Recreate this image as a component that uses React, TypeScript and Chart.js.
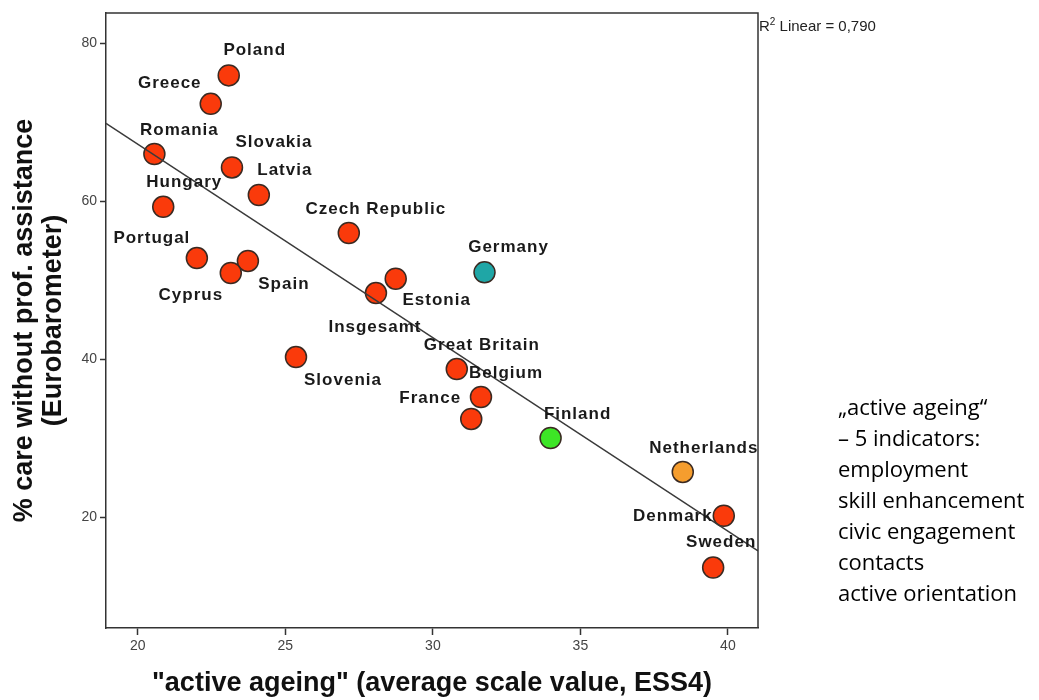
import React, { useEffect, useRef } from 'react';
import { Chart, registerables } from 'chart.js';

Chart.register(...registerables);

// ---------- data ----------
const countries = [
  'Poland', 'Greece', 'Romania', 'Slovakia', 'Latvia', 'Hungary', 'Czech Republic',
  'Portugal', 'Spain', 'Cyprus', 'Germany', 'Estonia', 'Insgesamt', 'Slovenia',
  'Great Britain', 'Belgium', 'France', 'Finland', 'Netherlands', 'Denmark', 'Sweden',
];
const activeAgeing = [
  23.08, 22.47, 20.56, 23.19, 24.1, 20.86, 27.15,
  22.0, 23.73, 23.15, 31.75, 28.74, 28.07, 25.36,
  30.81, 31.63, 31.3, 33.99, 38.47, 39.86, 39.5,
];
const careWithoutAssistance = [
  75.9, 72.3, 65.95, 64.25, 60.76, 59.27, 55.95,
  52.78, 52.41, 50.89, 50.97, 50.17, 48.35, 40.25,
  38.73, 35.19, 32.41, 30.0, 25.7, 20.16, 13.6,
];
const xTicks = [20, 25, 30, 35, 40];
const yTicks = [20, 40, 60, 80];
const fitLineX = [18.92, 41.02];
const fitLineY = [69.84, 15.7];
const rSquared = '0,790';
const xTitle = '"active ageing" (average scale value, ESS4)';
const yTitleLines = ['% care without prof. assistance', '(Eurobarometer)'];
const noteLines = [
  '\u201Eactive ageing\u201C',
  '\u2013 5 indicators:',
  'employment',
  'skill enhancement',
  'civic engagement',
  'contacts',
  'active orientation',
];

// ---------- styles / layout ----------
const defaultColor = '#fa3a0b';
const specialColors: Record<string, string> = {
  Germany: '#1fa6a6',
  Finland: '#3de526',
  Netherlands: '#f59d2e',
};
// label centre offsets (px) relative to each point
const labelOffsets: [number, number][] = [
  [26, -25], [-41, -21], [25, -24], [42, -25], [26, -25], [21, -24], [27, -24],
  [-45, -20], [36, 23], [-40, 22], [24, -25], [41, 22], [-1, 34], [47, 23],
  [25, -24], [25, -24], [-41, -21], [27, -24], [21, -24], [-51, 1], [8, -25],
];

const decorPlugin = {
  id: 'decor',
  afterDraw(chart: any) {
    const { ctx, chartArea } = chart;
    const { left, right, top, bottom } = chartArea;
    ctx.save();
    // box
    ctx.strokeStyle = '#333';
    ctx.lineWidth = 1.5;
    ctx.beginPath();
    ctx.moveTo(left, top);
    ctx.lineTo(right, top);
    ctx.lineTo(right, bottom);
    ctx.stroke();

    // point labels
    const meta = chart.getDatasetMeta(1);
    ctx.font = 'bold 17px "Liberation Sans", Arial, sans-serif';
    try { (ctx as any).letterSpacing = '1px'; } catch (e) {}
    ctx.fillStyle = '#1a1a1a';
    ctx.textAlign = 'center';
    ctx.textBaseline = 'middle';
    meta.data.forEach((el: any, i: number) => {
      const [dx, dy] = labelOffsets[i];
      ctx.fillText(countries[i], el.x + dx, el.y + dy);
    });
    try { (ctx as any).letterSpacing = '0px'; } catch (e) {}

    // axis titles
    ctx.fillStyle = '#111';
    ctx.font = 'bold 27px "Liberation Sans", Arial, sans-serif';
    ctx.textAlign = 'center';
    ctx.textBaseline = 'middle';
    ctx.fillText(xTitle, (left + right) / 2, 684);
    const cy = (top + bottom) / 2;
    const xs = [25, 54];
    yTitleLines.forEach((line, i) => {
      ctx.save();
      ctx.translate(xs[i], cy);
      ctx.rotate(-Math.PI / 2);
      ctx.fillText(line, 0, 0);
      ctx.restore();
    });

    // R² text
    ctx.fillStyle = '#222';
    ctx.textAlign = 'left';
    ctx.textBaseline = 'alphabetic';
    ctx.font = '15px "Liberation Sans", Arial, sans-serif';
    let x = right + 1;
    ctx.fillText('R', x, 31);
    x += ctx.measureText('R').width;
    ctx.font = '10px "Liberation Sans", Arial, sans-serif';
    ctx.fillText('2', x, 25);
    x += ctx.measureText('2').width;
    ctx.font = '15px "Liberation Sans", Arial, sans-serif';
    ctx.fillText(' Linear = ' + rSquared, x, 31);

    // note
    ctx.fillStyle = '#000';
    ctx.font = '22px "Open Sans", "Noto Sans", sans-serif';
    noteLines.forEach((line, i) => {
      ctx.fillText(line, 838, 415 + i * 31);
    });
    ctx.restore();
  },
};

export default function App() {
  const ref = useRef<HTMLCanvasElement | null>(null);
  useEffect(() => {
    if (!ref.current) return;
    const pointData = activeAgeing.map((v, i) => ({ x: v, y: careWithoutAssistance[i] }));
    const fitData = fitLineX.map((v, i) => ({ x: v, y: fitLineY[i] }));
    const chart = new Chart(ref.current, {
      type: 'scatter',
      data: {
        datasets: [
          {
            type: 'line',
            label: 'fit',
            data: fitData,
            borderColor: '#3a3a3a',
            borderWidth: 1.5,
            pointRadius: 0,
            fill: false,
            order: 0,
          } as any,
          {
            label: 'countries',
            data: pointData,
            backgroundColor: countries.map((c) => specialColors[c] || defaultColor),
            borderColor: '#3a2a22',
            borderWidth: 1.5,
            pointRadius: 10.5,
            order: 1,
          },
        ],
      },
      options: {
        animation: false,
        responsive: true,
        maintainAspectRatio: false,
        layout: { padding: { left: 0, top: 13, right: 281, bottom: 0 } },
        plugins: {
          legend: { display: false },
          tooltip: { enabled: false },
        },
        scales: {
          x: {
            type: 'linear',
            min: 18.92,
            max: 41.02,
            afterBuildTicks: (s: any) => { s.ticks = xTicks.map((v) => ({ value: v })); },
            afterFit: (s: any) => { s.height = 72; },
            grid: { drawOnChartArea: false, tickLength: 7, tickColor: '#333', tickWidth: 1.5 },
            border: { display: true, color: '#333', width: 1.5 },
            ticks: {
              padding: 3,
              color: '#444',
              font: { family: '"Liberation Sans Narrow", "Arial Narrow", "Liberation Sans", sans-serif', size: 14 },
              maxRotation: 0,
              callback: (v: any) => String(v),
            },
          },
          y: {
            type: 'linear',
            min: 5.95,
            max: 83.8,
            afterBuildTicks: (s: any) => { s.ticks = yTicks.map((v) => ({ value: v })); },
            afterFit: (s: any) => { s.width = 106; },
            grid: { drawOnChartArea: false, tickLength: 6, tickColor: '#333', tickWidth: 1.5 },
            border: { display: true, color: '#333', width: 1.5 },
            ticks: {
              padding: 3,
              color: '#444',
              font: { family: '"Liberation Sans Narrow", "Arial Narrow", "Liberation Sans", sans-serif', size: 14 },
              callback: (v: any) => String(v),
            },
          },
        },
      },
      plugins: [decorPlugin],
    });
    return () => chart.destroy();
  }, []);
  return (
    <div style={{ position: 'absolute', left: 0, top: 0, width: 1039, height: 700, background: '#fff' }}>
      <canvas ref={ref} />
    </div>
  );
}
